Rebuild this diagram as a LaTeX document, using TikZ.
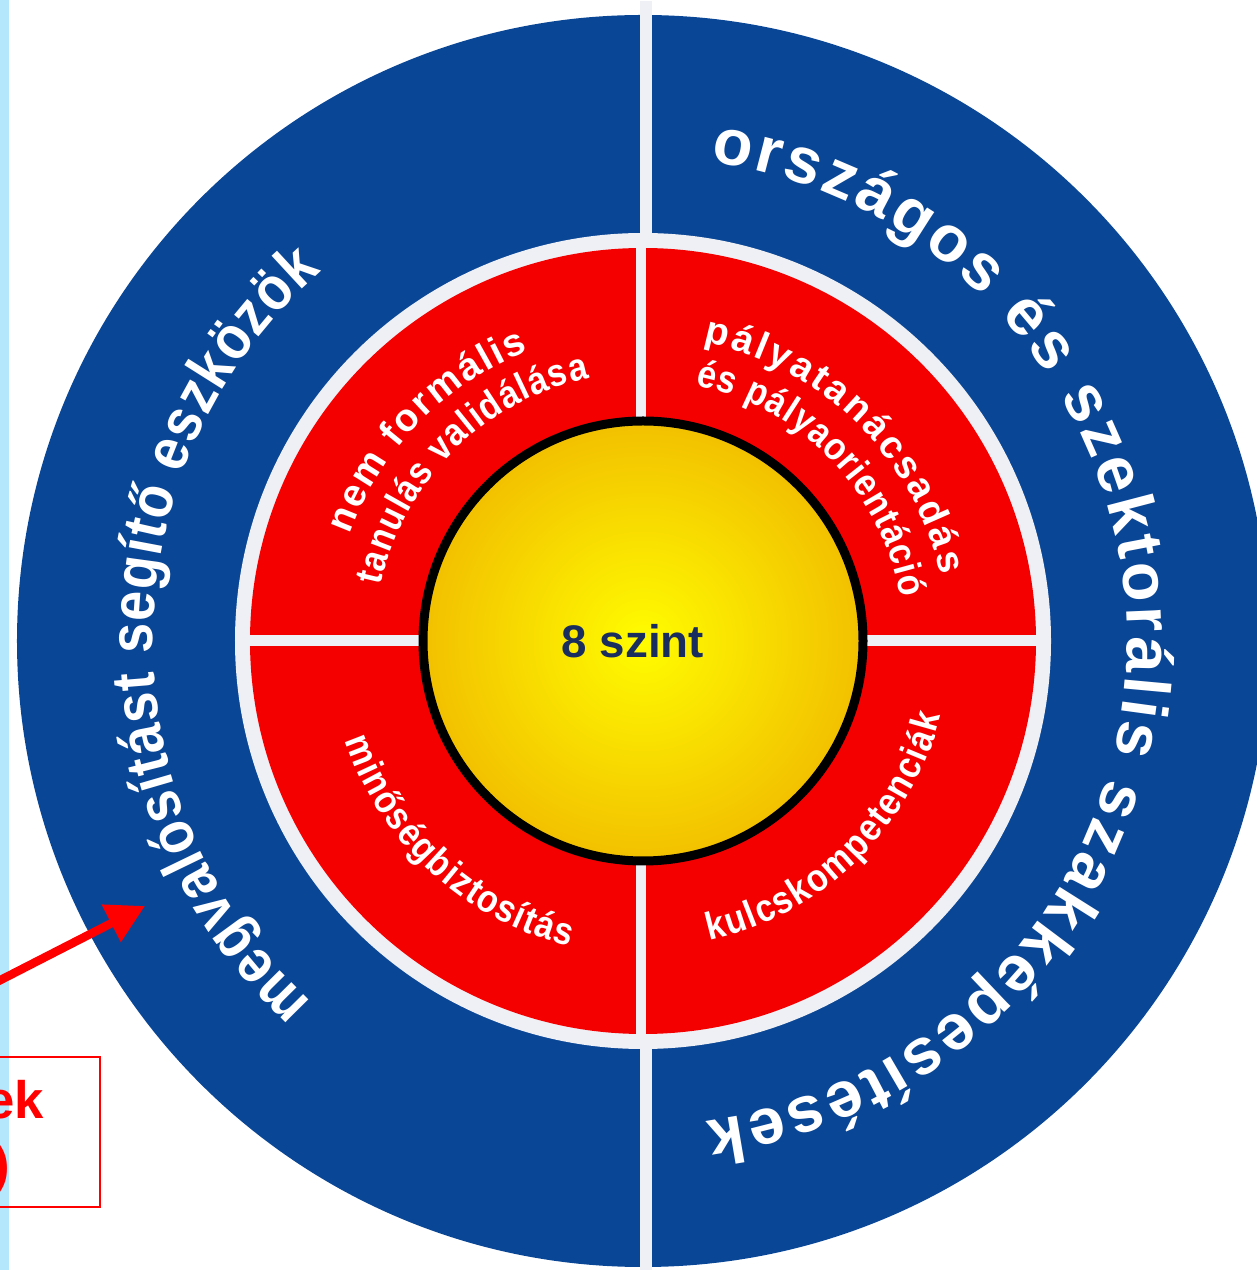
\documentclass[tikz,border=0pt]{standalone}
\usepackage{fontspec}
\setmainfont{Liberation Sans}
\newfontfamily\ringsans[FakeStretch=0.88]{Liberation Sans}
\usetikzlibrary{decorations.text}
\usetikzlibrary{arrows.meta}

\definecolor{ringblue}{RGB}{10,70,150}
\definecolor{ringred}{RGB}{245,0,0}
\definecolor{gapwhite}{RGB}{238,240,246}
\definecolor{stripblue}{RGB}{180,230,252}
\definecolor{navytext}{RGB}{25,45,95}
\definecolor{sunyellow}{RGB}{255,252,0}
\definecolor{sungold}{RGB}{242,192,0}
\definecolor{notered}{RGB}{255,0,0}

\newcommand{\leftfont}{\ringsans\bfseries\fontsize{17.5pt}{20pt}\selectfont}
\newcommand{\rightfont}{\bfseries\fontsize{18.5pt}{21pt}\selectfont}
\newcommand{\innerfont}{\bfseries\fontsize{11pt}{13pt}\selectfont}
\newcommand{\narrowfont}{\ringsans\bfseries\fontsize{11pt}{13pt}\selectfont}

\begin{document}
\begin{tikzpicture}[x=0.1mm, y=0.1mm,
    ringtext/.style={decorate, decoration={text along path, text align={fit to path}, text color=white, text={#1}}},
    gap/.style={draw=gapwhite},
    note/.style={anchor=base east, inner sep=0pt, text=notered, font=\bfseries\fontsize{15pt}{18pt}\selectfont}]

                \useasboundingbox (-643,-629) rectangle (613,641);

                % Strip
                \fill[stripblue] (-643,-629) rectangle (-634,641);

                % Rings
                \fill[ringblue] (0,0) circle[radius=626];
                \draw[gap, line width=1.2mm] (3,-640) -- (3,640);
                \fill[gapwhite] (0,0) circle[radius=408];
                \fill[ringred] (0,0) circle[radius=393];
                \draw[gap, line width=1mm] (-2,-395) -- (-2,395);
                \draw[gap, line width=1.1mm] (-395,0) -- (395,0);
                \shadedraw[line width=0.9mm, inner color=sunyellow, outer color=sungold] (0,0) circle[radius=220];

                % Nodes
                \node at (-10,0) (level) {\bfseries\fontsize{13pt}{15pt}\selectfont\color{navytext}8 szint};
                \node[note] at (-598,-477) (notea) {ek};
                \node[note] at (-632,-541) (noteb) {)};
                \draw[notered, line width=0.2mm] (-660,-416) rectangle (-543,-566);

                % Blue ring texts
                \path[ringtext={|\leftfont|megvalósítást segítő eszközök}] (227.5:490) arc[start angle=227.5, end angle=131, radius=490];
                \path[ringtext={|\rightfont|országos és szektorális szakképesítések}] (82:484) arc[start angle=82, end angle=-82.5, radius=484];

                % Red ring texts
                \path[ringtext={|\innerfont|nem formális}] (160:312) arc[start angle=160, end angle=111.5, radius=312];
                \path[ringtext={|\narrowfont|tanulás validálása}] (168:268) arc[start angle=168, end angle=101.5, radius=268];
                \path[ringtext={|\innerfont|pályatanácsadás}] (78.5:305) arc[start angle=78.5, end angle=12.5, radius=305];
                \path[ringtext={|\narrowfont|és pályaorientáció}] (78.5:261) arc[start angle=78.5, end angle=9.5, radius=261];
                \path[ringtext={|\narrowfont|minőségbiztosítás}] (198.5:314) arc[start angle=198.5, end angle=256.5, radius=314];
                \path[ringtext={|\narrowfont|kulcskompetenciák}] (-77.5:307) arc[start angle=-77.5, end angle=-14, radius=307];

                % Arrows
                \coordinate (arrowfrom) at (-660,-348);
                \coordinate (arrowto) at (-498,-265);
                \draw[notered, line width=0.85mm, -{Triangle[length=3.8mm, width=4mm]}] (arrowfrom) -- (arrowto);

\end{tikzpicture}
\end{document}
